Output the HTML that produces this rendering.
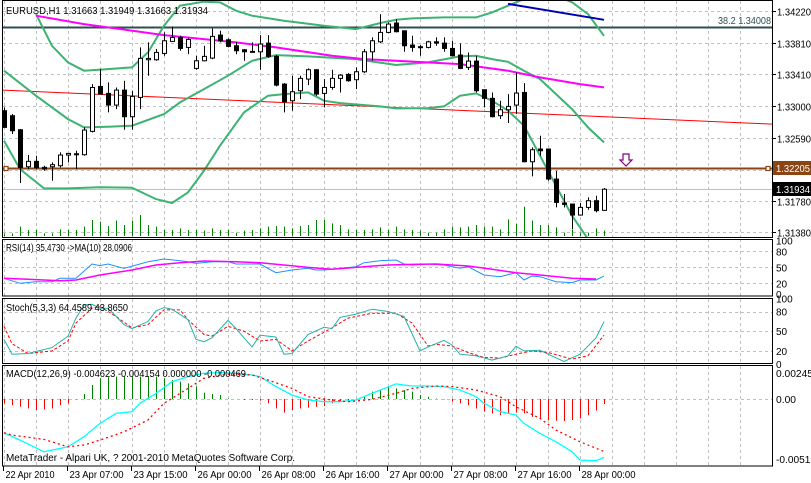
<!DOCTYPE html>
<html><head><meta charset="utf-8"><style>
html,body{margin:0;padding:0;background:#fff;}
svg{display:block;font-family:"Liberation Sans",sans-serif;font-size:10px;}
</style></head><body>
<svg id="chart" width="811" height="483" viewBox="0 0 811 483">
<defs>
<clipPath id="cMain"><rect x="3" y="1" width="769" height="236"/></clipPath>
<clipPath id="cRsi"><rect x="3" y="239" width="769" height="57"/></clipPath>
<clipPath id="cSto"><rect x="3" y="299" width="769" height="64"/></clipPath>
<clipPath id="cMacd"><rect x="3" y="366" width="769" height="100"/></clipPath>
</defs>
<rect x="0" y="0" width="811" height="483" fill="#fff"/>
<g id="grid"></g>
<g id="main" clip-path="url(#cMain)"></g>
<g id="rsi" clip-path="url(#cRsi)"></g>
<g id="sto" clip-path="url(#cSto)"></g>
<g id="macd" clip-path="url(#cMacd)"></g>
<g id="frames"></g>
<g id="axes"></g>
</svg>
<script>
// ---------- DATA ----------
const opens=[1.32940,1.32876,1.32696,1.32222,1.32291,1.32214,1.32222,1.32235,1.32372,1.32384,1.32376,1.32675,1.33251,1.33162,1.33012,1.33204,1.32863,1.33110,1.33593,1.33593,1.33674,1.33828,1.33879,1.33751,1.33482,1.33580,1.33614,1.33909,1.33849,1.33772,1.33721,1.33700,1.33695,1.33806,1.33636,1.33281,1.33068,1.33196,1.33345,1.33465,1.33162,1.33238,1.33354,1.33405,1.33337,1.33439,1.33695,1.33823,1.33943,1.34063,1.33964,1.33781,1.33760,1.33751,1.33823,1.33806,1.33738,1.33653,1.33495,1.33576,1.33209,1.33098,1.32876,1.32952,1.33012,1.33174,1.32286,1.32449,1.32449,1.32064,1.31757,1.31744,1.31603,1.31701,1.31787,1.31663];
const highs=[1.32982,1.32897,1.32705,1.32372,1.32363,1.32235,1.32278,1.32406,1.32397,1.32427,1.32726,1.33281,1.33473,1.33303,1.33238,1.33324,1.33196,1.33751,1.33815,1.33730,1.33943,1.34020,1.33900,1.33866,1.33644,1.33772,1.33994,1.33964,1.33866,1.33823,1.33730,1.33815,1.33909,1.33909,1.33653,1.33294,1.33388,1.33388,1.33482,1.33473,1.33345,1.33465,1.33409,1.33422,1.33495,1.33730,1.33879,1.34178,1.34071,1.34114,1.33964,1.33900,1.33781,1.33836,1.33879,1.33879,1.33836,1.33802,1.33687,1.33644,1.33209,1.33174,1.33068,1.33153,1.33431,1.33294,1.32470,1.32619,1.32449,1.32171,1.31872,1.31744,1.31757,1.31829,1.31851,1.31949];
const lows=[1.32726,1.32641,1.32013,1.32192,1.32192,1.32171,1.32043,1.32214,1.32278,1.32192,1.32363,1.32662,1.33153,1.32918,1.32961,1.32696,1.32696,1.32961,1.33388,1.33580,1.33644,1.33828,1.33708,1.33665,1.33465,1.33572,1.33601,1.33815,1.33751,1.33665,1.33580,1.33687,1.33465,1.33619,1.33251,1.32918,1.32940,1.33089,1.33268,1.33132,1.32982,1.33209,1.33174,1.33311,1.33217,1.33422,1.33580,1.33806,1.33934,1.33943,1.33695,1.33695,1.33644,1.33738,1.33772,1.33695,1.33636,1.33473,1.33461,1.33174,1.32982,1.32854,1.32833,1.32782,1.32897,1.32278,1.32098,1.32363,1.32043,1.31701,1.31701,1.31424,1.31595,1.31671,1.31637,1.31663];
const closes=[1.32726,1.32683,1.32214,1.32291,1.32214,1.32192,1.32248,1.32372,1.32393,1.32388,1.32692,1.33238,1.33153,1.33012,1.33204,1.32863,1.33123,1.33610,1.33610,1.33687,1.33836,1.33879,1.33738,1.33853,1.33580,1.33636,1.33892,1.33836,1.33764,1.33708,1.33695,1.33700,1.33794,1.33636,1.33268,1.33055,1.33183,1.33354,1.33465,1.33153,1.33238,1.33354,1.33396,1.33324,1.33439,1.33695,1.33836,1.33943,1.34050,1.33952,1.33772,1.33751,1.33760,1.33823,1.33806,1.33738,1.33644,1.33482,1.33576,1.33196,1.33098,1.32863,1.32952,1.32995,1.33166,1.32286,1.32440,1.32427,1.32064,1.31765,1.31740,1.31603,1.31701,1.31787,1.31659,1.31934];
const volumes=[8,8,28,18,18,8,8,20,18,18,28,48,43,30,46,33,46,63,33,28,18,18,23,18,18,16,23,18,18,10,16,18,23,28,30,28,23,30,33,48,48,38,33,20,18,18,20,26,18,28,20,18,16,10,10,20,28,26,28,33,28,28,20,50,36,88,46,33,33,26,10,20,10,10,23,16];
const bbUpIdx=[4,6,8,10,13,16,18,20,22,25,27,29,31,35,40,44,47,49,51,55,59,61,63,65,67,69,71,73,75];
const bbUpVal=[1.34178,1.33772,1.33559,1.33452,1.33473,1.33495,1.33687,1.34029,1.34285,1.34336,1.34327,1.34221,1.34157,1.34092,1.34029,1.33986,1.34063,1.34105,1.34122,1.34135,1.34135,1.34199,1.34285,1.34370,1.34450,1.34410,1.34330,1.34178,1.33900];
const bbMidIdx=[0,4,8,10,13,16,20,22,25,28,31,34,38,44,49,53,57,59,61,63,65,67,69,71,73,75];
const bbMidVal=[1.33452,1.33132,1.32833,1.32726,1.32735,1.32748,1.32897,1.33046,1.33217,1.33388,1.33580,1.33653,1.33636,1.33601,1.33525,1.33559,1.33636,1.33644,1.33601,1.33567,1.33452,1.33345,1.33153,1.32961,1.32726,1.32534];
const bbLowIdx=[0,2,5,8,12,16,19,21,23,25,27,30,33,35,38,40,42,47,49,53,55,57,59,61,63,65,67,69,71,73];
const bbLowVal=[1.32555,1.32192,1.31945,1.31945,1.31958,1.31953,1.31808,1.31757,1.31893,1.32171,1.32491,1.32918,1.33132,1.33153,1.33174,1.33068,1.33038,1.32995,1.32969,1.32974,1.32995,1.33132,1.33162,1.33068,1.32940,1.32748,1.32363,1.31979,1.31595,1.31296];
const maIdx=[4,10,20,29,34,41,45,49,57,63,67,72,75];
const maVal=[1.34157,1.34050,1.33909,1.33815,1.33751,1.33644,1.33601,1.33580,1.33537,1.33452,1.33367,1.33281,1.33238];
const trendRedPrices=[1.33204,1.32768];
const trendBluePrices=[1.34310,1.34105];
const trendBlueIdx=[63,75];
const fiboPrice=1.34008, fiboLabel="38.2 1.34008";
const hlinePrice=1.32205, bidPrice=1.31934;
const priceTicks=[1.34220,1.33810,1.33410,1.33000,1.32590,1.32180,1.31780,1.31380];
const rsiIdx=[0,2,4,6,7,9,11,12,13,15,17,18,20,22,23,24,26,28,29,31,32,34,36,38,39,40,42,44,45,47,49,50,51,53,55,57,58,60,62,64,65,66,67,69,71,72,74,75];
const rsiVal=[29.4,20,23.1,23.1,29.4,29.4,56.3,53.2,56.3,48.2,56.3,60.6,65.6,62.5,60.6,57.5,60.6,60.6,56.3,56.3,56.3,40,45,48.2,45,45,48.2,51.3,58.8,62.5,63.8,56.3,54.4,56.3,54.4,48.2,51.3,35.6,32.5,40,26.3,33.8,32.5,23.1,21.3,26.3,26.3,33.5];
const rsiMaIdx=[0,3,7,9,12,16,19,22,25,29,32,35,38,41,45,48,51,54,58,61,64,67,71,74];
const rsiMaVal=[29.4,27.5,25,26.3,35.6,45,54.4,58.8,61.9,60.6,58.8,54.4,50,46.3,51.3,54.4,55.6,56.3,52.5,46.3,40,35.6,29.4,28.1];
const stoKIdx=[0,1,3,6,8,9,10,11,12,13,15,16,18,19,20,21,23,24,25,26,28,29,31,32,34,35,36,38,40,41,42,44,46,48,50,52,53,55,56,57,59,61,63,64,65,67,68,70,72,74,75];
const stoKVal=[37.6,15,16,25,42.5,70,90,91,85,85,60,54,65,81,86,83.5,67.5,37.6,34,40,66.5,54,26,44,41,15,16,45,56,54,71,76,83.5,80,72.5,20,26,36,29,15,12.5,6,12.5,27,20,21,15,4,15,40,64.5];
const stoDIdx=[0,1,3,6,8,9,11,12,14,16,18,20,22,23,25,26,28,30,32,34,36,38,41,43,46,49,51,53,54,56,58,60,62,64,66,68,71,73,75];
const stoDVal=[57.5,31,16,20,35,62.5,85,87.5,72.5,55,60,82.5,82.5,67.5,45,42.5,57.5,50,35,37.5,20,35,55,70,77.5,77.5,62.5,27.5,30,27.5,17.5,10,9,15,20,17.5,7.5,12.5,43.9];
const macdHist=[-0.00034,-0.00048,-0.00061,-0.00074,-0.00087,-0.00082,-0.00074,-0.00048,-0.00034,-0.00003,0.0004,0.00111,0.00164,0.00172,0.00177,0.00177,0.00177,0.00177,0.00177,0.00177,0.00164,0.0015,0.00137,0.00124,0.00098,0.0005,0.0004,0.00032,0.00005,0,-0.00008,-0.00008,-0.00013,-0.00034,-0.00074,-0.00108,-0.00087,-0.00074,-0.00069,-0.00061,-0.00055,-0.00034,-0.00021,-0.00021,-0.00008,0.00018,0.00058,0.00071,0.00098,0.00084,0.00071,0.00058,0.00032,0.00018,0.00003,-0.00003,-0.00021,-0.00034,-0.00048,-0.00074,-0.001,-0.00114,-0.00127,-0.00119,-0.00108,-0.00114,-0.0014,-0.00153,-0.00166,-0.00172,-0.00174,-0.00166,-0.00153,-0.00127,-0.00092,-0.0004];
const macdIdx=[0,2,5,8,10,12,14,16,17,19,21,23,25,27,29,31,32,34,36,38,40,42,44,46,49,51,53,55,57,59,60,62,64,65,67,69,71,72,74,75];
const macdVal=[-0.00267,-0.00325,-0.00417,-0.00378,-0.00298,-0.00193,-0.00114,-0.001,-0.00034,0.00045,0.00137,0.00177,0.00203,0.00209,0.00203,0.0019,0.00177,0.00098,0.00032,-0.00008,-0.00021,-0.00021,-0.00008,0.00045,0.00119,0.00103,0.00103,0.00098,0.00071,0.00018,-0.00034,-0.001,-0.00127,-0.00193,-0.00272,-0.00338,-0.00417,-0.00483,-0.00488,-0.00462];
const sigIdx=[0,1,5,8,10,12,15,18,20,23,25,28,31,33,36,38,41,43,46,49,51,54,56,59,62,64,67,69,72,75];
const sigVal=[-0.00267,-0.00285,-0.00319,-0.00378,-0.00364,-0.00325,-0.00259,-0.00166,-0.00034,0.00084,0.00164,0.00198,0.0019,0.0015,0.00084,0.00018,-0.00008,-0.00021,-0.00003,0.00045,0.00084,0.00103,0.00098,0.00071,0.00018,-0.00061,-0.00153,-0.00246,-0.00338,-0.00415];
const timeIdx=[0,8,16,24,32,40,48,56,64,72];
const timeLabels=["22 Apr 2010","23 Apr 07:00","23 Apr 15:00","26 Apr 00:00","26 Apr 08:00","26 Apr 16:00","27 Apr 00:00","27 Apr 08:00","27 Apr 16:00","28 Apr 00:00"];
const rsiTicks=[100,80,50,20,0];
const stoTicks=[100,80,50,20,0];
const macdTicks=[0.00245,0,-0.00519];
const macdTickLabels=["0.00245","0.00","-0.00519"];

// ---------- SCALES ----------
const NS="http://www.w3.org/2000/svg";
const xI=i=>4+8*i;
const yP=p=>10.8+(1.3422-p)*7805;
const yR=v=>294-0.533*v;
const yS=v=>364-0.656*v;
const yM=v=>399-v*12650;
function mk(parent,tag,attrs){const e=document.createElementNS(NS,tag);for(const k in attrs)e.setAttribute(k,attrs[k]);document.getElementById(parent).appendChild(e);return e;}
function poly(parent,idx,val,yf,style,name){
  const pts=idx.map((i,k)=>xI(i)+","+yf(val[k]).toFixed(1)).join(" ");
  const e=mk(parent,"polyline",Object.assign({points:pts,fill:"none"},style));
  
  
}
function txt(parent,x,y,s,attrs,len){const e=mk(parent,"text",Object.assign({x:x,y:y},attrs||{}));e.textContent=s;
  if(len){e.setAttribute("textLength",len);e.setAttribute("lengthAdjust","spacingAndGlyphs");}return e;}
const dash={stroke:"#c0c0c0","stroke-width":1,"stroke-dasharray":"3,3"};

// ---------- GRID ----------
for(let i=0;i<=96;i+=4){const x=xI(i)+0.5; if(x>772)break;
  for(const [a,b] of [[1,237],[239,296],[299,363],[366,466]]){
    const l=mk("grid","line",Object.assign({x1:x,x2:x,y1:a,y2:b},dash));
    
    
  }
}
priceTicks.forEach(p=>{const y=Math.round(yP(p))+0.5;
  const l=mk("grid","line",Object.assign({x1:3,x2:772,y1:y,y2:y},dash));
  
  
});
[80,50,20].forEach(v=>{const y=Math.round(yR(v))+0.5;const l=mk("grid","line",Object.assign({x1:3,x2:772,y1:y,y2:y},dash));
  
  });
[80,50,20].forEach(v=>{const y=Math.round(yS(v))+0.5;const l=mk("grid","line",Object.assign({x1:3,x2:772,y1:y,y2:y},dash));
  
  });
{const y=Math.round(yM(0))+0.5;const l=mk("grid","line",Object.assign({x1:3,x2:772,y1:y,y2:y},dash));
  
  }

// ---------- MAIN ----------
volumes.forEach((v,i)=>{const x=xI(i)+0.5;
  const l=mk("main","line",{x1:x,x2:x,y1:236,y2:236-v/3,stroke:"#008000","stroke-width":1});
  
  
});
{const l=mk("main","line",{x1:3,x2:772,y1:yP(trendRedPrices[0]),y2:yP(trendRedPrices[1]),stroke:"#ff0000","stroke-width":1});
 
 }
{const l=mk("main","line",{x1:3,x2:772,y1:Math.round(yP(fiboPrice))+0.5,y2:Math.round(yP(fiboPrice))+0.5,stroke:"#2f4f4f","stroke-width":2});
 
 }
{const y=Math.round(yP(bidPrice))+0.5;const l=mk("main","line",{x1:3,x2:772,y1:y,y2:y,stroke:"#c0c0c0","stroke-width":1});
 
 }
poly("main",bbUpIdx,bbUpVal,yP,{stroke:"#3cb371","stroke-width":2},"bollinger-upper");
poly("main",bbMidIdx,bbMidVal,yP,{stroke:"#3cb371","stroke-width":2},"bollinger-middle");
poly("main",bbLowIdx,bbLowVal,yP,{stroke:"#3cb371","stroke-width":2},"bollinger-lower");
poly("main",maIdx,maVal,yP,{stroke:"#ff00ff","stroke-width":2},"moving-average");
poly("main",trendBlueIdx,trendBluePrices,yP,{stroke:"#0000b0","stroke-width":2},"blue-trendline");
{const y=Math.round(yP(hlinePrice))+0.5;
 const l=mk("main","line",{x1:3,x2:772,y1:y,y2:y,stroke:"#8b4513","stroke-width":2});
 
 
 const s1=mk("main","rect",{x:4,y:y-2,width:4,height:4,fill:"#fff",stroke:"#8b4513","stroke-width":1.2});
 
 
 const s2=mk("main","rect",{x:766,y:y-2,width:4,height:4,fill:"#fff",stroke:"#8b4513","stroke-width":1.2});
 
 }
opens.forEach((o,i)=>{const c=closes[i],x=xI(i);
  const w=mk("main","line",{x1:x+0.5,x2:x+0.5,y1:yP(highs[i]),y2:yP(lows[i]),stroke:"#000","stroke-width":1});
  
  
  const top=Math.min(yP(o),yP(c)),h=Math.max(1,Math.abs(yP(o)-yP(c)));
  const b=mk("main","rect",{x:x-1.5,y:top,width:4,height:h,fill:c>=o?"#fff":"#000",stroke:"#000","stroke-width":1});
  
  
});
{const a=mk("main","path",{d:"M623,154 h6 v6 h3 l-6,6 l-6,-6 h3 z",fill:"#fff",stroke:"#800080","stroke-width":1.2});
 
 }
{const t=txt("main",718,24,fiboLabel,{fill:"#2f4f4f"},53);
 
 }
{const t=txt("main",6,14,"EURUSD,H1  1.31663 1.31949 1.31663 1.31934",{fill:"#000","xml:space":"preserve"},202);
 
 }

// ---------- RSI ----------
poly("rsi",rsiIdx,rsiVal,yR,{stroke:"#1e90ff","stroke-width":1},"rsi-line");
poly("rsi",rsiMaIdx,rsiMaVal,yR,{stroke:"#ff00ff","stroke-width":1.5},"rsi-ma-line");
{const t=txt("rsi",6,251,"RSI(14) 35.4730  ->MA(10) 28.0906",{"xml:space":"preserve"},126);
 
 }

// ---------- STOCH ----------
poly("sto",stoDIdx,stoDVal,yS,{stroke:"#ff0000","stroke-width":1,"stroke-dasharray":"3,2"},"stoch-signal-line");
poly("sto",stoKIdx,stoKVal,yS,{stroke:"#20b2aa","stroke-width":1},"stoch-main-line");
{const t=txt("sto",6,311,"Stoch(5,3,3) 64.4589 43.8650",{},122);
 
 }

// ---------- MACD ----------
macdHist.forEach((v,i)=>{const x=xI(i)+0.5;
  const l=mk("macd","line",{x1:x,x2:x,y1:yM(0),y2:yM(v),stroke:v>=0?"#008000":"#ff0000","stroke-width":1});
  
  
});
poly("macd",macdIdx,macdVal,yM,{stroke:"#00ffff","stroke-width":1.3},"macd-main-line");
poly("macd",sigIdx,sigVal,yM,{stroke:"#ff0000","stroke-width":1.3,"stroke-dasharray":"2,3"},"macd-signal-line");
{const t=txt("macd",6,377,"MACD(12,26,9) -0.004623 -0.004154 0.000000 -0.000469",{},240);
 
 }
{const t=txt("macd",6,461,"MetaTrader - Alpari UK, ? 2001-2010 MetaQuotes Software Corp.",{},289);
 
 }

// ---------- FRAMES ----------
[[2.5,0.5,770,237],[2.5,239.5,770,56.5],[2.5,298.5,770,65],[2.5,365.5,770,100.5]].forEach((r,k)=>{
  const e=mk("frames","rect",{x:r[0],y:r[1],width:r[2],height:r[3],fill:"none",stroke:"#000","stroke-width":1});
  
  
});

// ---------- AXES ----------
priceTicks.forEach(p=>{const y=Math.round(yP(p))+0.5;
  const tk=mk("axes","line",{x1:772,x2:776,y1:y,y2:y,stroke:"#000"});
  
  
  const t=txt("axes",777,y+4,p.toFixed(5),{},34);
  
  
});
function boxLabel(p,bg,name){const y=Math.round(yP(p));
  const r=mk("axes","rect",{x:773,y:y-7,width:38,height:14,fill:bg});
  
  
  const t=txt("axes",776,y+4,p.toFixed(5),{fill:"#fff"},34);
  
  }
boxLabel(hlinePrice,"#8b4513","level-price-label");
boxLabel(bidPrice,"#000","bid-price-label");
rsiTicks.forEach(v=>{const y=yR(v);const t=txt("axes",776,y+4,String(v),{});
  
  });
stoTicks.forEach(v=>{const y=yS(v);const t=txt("axes",776,y+4,String(v),{});
  
  });
macdTicks.forEach((v,k)=>{let y=yM(v)+4; if(k===0)y=Math.max(y,377); if(k===2)y=Math.min(y,463);
  const t=txt("axes",776,y,macdTickLabels[k],{},k===1?20:(k===0?37:40));
  
  });
timeIdx.forEach((i,k)=>{const x=xI(i)-0.5;
  const tk=mk("axes","line",{x1:x,x2:x,y1:466,y2:471,stroke:"#000"});
  
  
  const t=txt("axes",x+2,478,timeLabels[k],{},k===0?49:54);
  
  
});
</script>
</body></html>
